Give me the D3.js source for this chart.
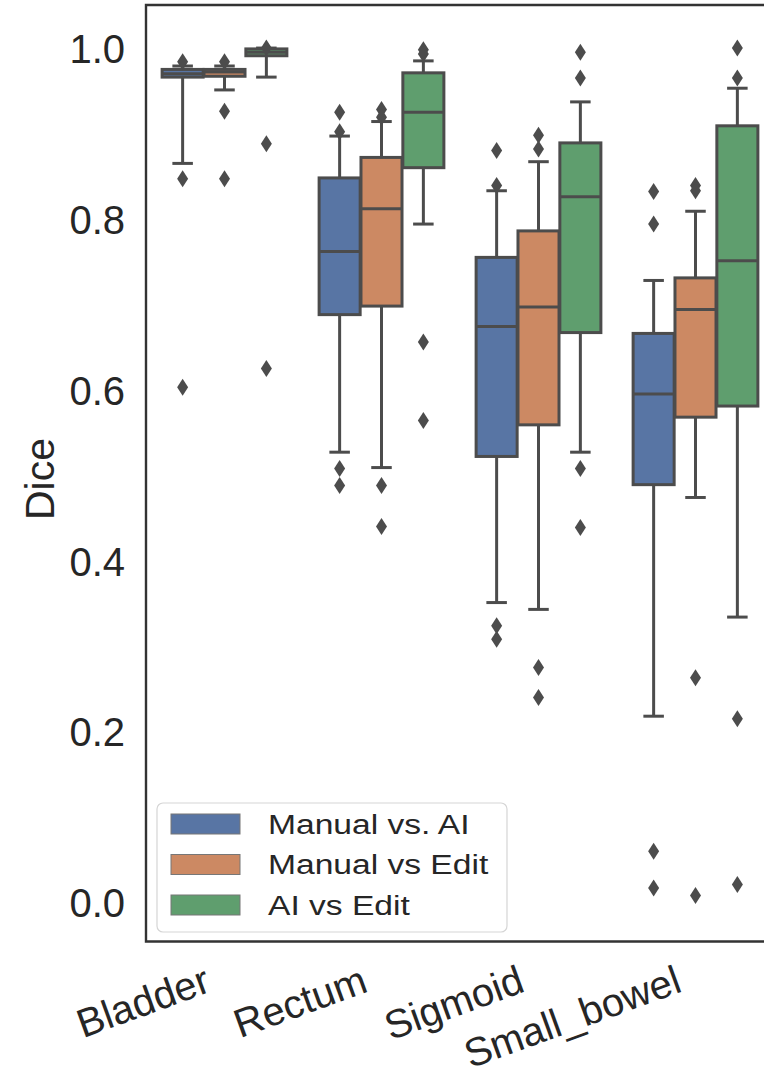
<!DOCTYPE html>
<html>
<head>
<meta charset="utf-8">
<script src="https://cdn.jsdelivr.net/npm/d3@7"></script>
<style>
  body { margin: 0; background: #fff; }
  text { font-family: 'Liberation Sans', Arial, sans-serif; fill: #262626; }
</style>
</head>
<body>
<svg id="chart" width="764" height="1072"></svg>
<script>
const categories = ['Bladder', 'Rectum', 'Sigmoid', 'Small_bowel'];
const groups = ['Manual vs. AI', 'Manual vs Edit', 'AI vs Edit'];
const colors = ['#5875a4', '#cc8963', '#5f9e6e'];
const yTicks = [0.0, 0.2, 0.4, 0.6, 0.8, 1.0];

// one row per group, one value per category
const q1 = [
  [0.966, 0.688, 0.522, 0.489],
  [0.967, 0.698, 0.559, 0.568],
  [0.991, 0.860, 0.667, 0.581]
];
const median = [
  [0.970, 0.762, 0.674, 0.595],
  [0.972, 0.812, 0.697, 0.694],
  [0.995, 0.925, 0.826, 0.751]
];
const q3 = [
  [0.975, 0.848, 0.755, 0.666],
  [0.975, 0.872, 0.786, 0.731],
  [0.999, 0.971, 0.889, 0.909]
];
const whiskerLow = [
  [0.865, 0.527, 0.351, 0.218],
  [0.951, 0.509, 0.343, 0.474],
  [0.966, 0.794, 0.527, 0.334]
];
const whiskerHigh = [
  [0.979, 0.897, 0.833, 0.728],
  [0.979, 0.914, 0.867, 0.809],
  [1.000, 0.985, 0.937, 0.953]
];
const outliers = [
  [[0.984, 0.847, 0.603], [0.925, 0.902, 0.508, 0.488], [0.880, 0.839, 0.324, 0.308], [0.832, 0.794, 0.060, 0.017]],
  [[0.984, 0.926, 0.847], [0.928, 0.919, 0.488, 0.440], [0.898, 0.882, 0.275, 0.240], [0.839, 0.833, 0.263, 0.008]],
  [[1.000, 0.888, 0.625], [0.998, 0.993, 0.656, 0.564], [0.995, 0.965, 0.508, 0.439], [1.000, 0.965, 0.215, 0.021]]
];

let boxes = [];
groups.forEach((g, gi) => {
  categories.forEach((c, ci) => {
    boxes.push({
      group: g, gi: gi, cat: c,
      q1: q1[gi][ci], med: median[gi][ci], q3: q3[gi][ci],
      lo: whiskerLow[gi][ci], hi: whiskerHigh[gi][ci],
      out: outliers[gi][ci]
    });
  });
});

let svg = d3.select('#chart');
let plotLeft = 146, plotTop = 5, plotBottom = 941.5;
let lineColor = '#4c4c4c';

let x = d3.scaleBand().domain(categories).range([plotLeft, plotLeft + 4 * 157]).padding(0);
let hueX = d3.scaleBand().domain(groups).range([-0.4 * 157, 0.4 * 157]).padding(0);
let y = d3.scaleLinear().domain([-0.0457, 1.0504]).range([plotBottom, plotTop]);

let boxW = hueX.bandwidth() * 0.98;
let cx = (d) => x(d.cat) + x.bandwidth() / 2 + hueX(d.group) + hueX.bandwidth() / 2;

let boxG = svg
  .append('g')
  .selectAll('g')
  .data(boxes)
  .join('g');

// whiskers
boxG.append('line')
  .attr('x1', cx).attr('x2', cx)
  .attr('y1', (d) => y(d.q3)).attr('y2', (d) => y(d.hi))
  .attr('stroke', lineColor).attr('stroke-width', 3);
boxG.append('line')
  .attr('x1', cx).attr('x2', cx)
  .attr('y1', (d) => y(d.q1)).attr('y2', (d) => y(d.lo))
  .attr('stroke', lineColor).attr('stroke-width', 3);
// caps
boxG.selectAll('.cap')
  .data((d) => [d.lo, d.hi].map((v) => ({ v: v, c: cx(d) })))
  .join('line')
  .attr('class', 'cap')
  .attr('x1', (d) => d.c - boxW / 4).attr('x2', (d) => d.c + boxW / 4)
  .attr('y1', (d) => y(d.v)).attr('y2', (d) => y(d.v))
  .attr('stroke', lineColor).attr('stroke-width', 3);
// box
boxG.append('rect')
  .attr('x', (d) => cx(d) - boxW / 2)
  .attr('width', boxW)
  .attr('y', (d) => y(d.q3))
  .attr('height', (d) => y(d.q1) - y(d.q3))
  .attr('fill', (d) => colors[d.gi])
  .attr('stroke', lineColor).attr('stroke-width', 3);
// median
boxG.append('line')
  .attr('x1', (d) => cx(d) - boxW / 2).attr('x2', (d) => cx(d) + boxW / 2)
  .attr('y1', (d) => y(d.med)).attr('y2', (d) => y(d.med))
  .attr('stroke', lineColor).attr('stroke-width', 3);
// fliers
boxG.selectAll('.flier')
  .data((d) => d.out.map((v) => ({ v: v, c: cx(d) })))
  .join('path')
  .attr('class', 'flier')
  .attr('d', (d) => `M${d.c},${y(d.v) - 8.5}L${d.c + 5.5},${y(d.v)}L${d.c},${y(d.v) + 8.5}L${d.c - 5.5},${y(d.v)}Z`)
  .attr('fill', lineColor);

// spines
svg.append('path')
  .attr('d', `M780,${plotTop}H${plotLeft}V${plotBottom}H780`)
  .attr('fill', 'none')
  .attr('stroke', '#333')
  .attr('stroke-width', 2.4);

// y axis
let yAxis = svg
  .append('g')
  .attr('transform', `translate(${plotLeft},0)`)
  .call(d3.axisLeft(y).tickValues(yTicks).tickFormat(d3.format('.1f')).tickSize(0).tickPadding(21));
yAxis.select('.domain').remove();
yAxis.selectAll('text')
  .attr('font-size', 40)
  .attr('dy', '0.36em')
  .style('font-family', "'Liberation Sans', Arial, sans-serif")
  .attr('fill', '#262626');

svg.append('text')
  .attr('transform', 'translate(54,479) rotate(-90)')
  .attr('text-anchor', 'middle')
  .attr('font-size', 41)
  .text('Dice');

// x labels
svg.append('g')
  .selectAll('text')
  .data(categories)
  .join('text')
  .attr('transform', (d) => `translate(${x(d) + x.bandwidth() / 2 - 12},991) rotate(-20)`)
  .attr('text-anchor', 'end')
  .attr('font-size', 40)
  .text((d) => d);

// legend
let legend = svg.append('g');
legend.append('rect')
  .attr('x', 157).attr('y', 803)
  .attr('width', 350).attr('height', 129)
  .attr('rx', 6)
  .attr('fill', 'rgba(255,255,255,0.8)')
  .attr('stroke', '#d5d5d5')
  .attr('stroke-width', 1.2);
let rowY = d3.scalePoint().domain(groups).range([824, 905]);
let item = legend.selectAll('.item')
  .data(groups)
  .join('g')
  .attr('class', 'item');
item.append('rect')
  .attr('x', 171).attr('y', (d) => rowY(d) - 10)
  .attr('width', 69).attr('height', 20)
  .attr('fill', (d, i) => colors[i])
  .attr('stroke', '#777')
  .attr('stroke-width', 1);
item.append('text')
  .attr('transform', (d) => `translate(268,${rowY(d) + 9.5}) scale(1.2,1)`)
  .attr('font-size', 28)
  .text((d) => d);
</script>
</body>
</html>
